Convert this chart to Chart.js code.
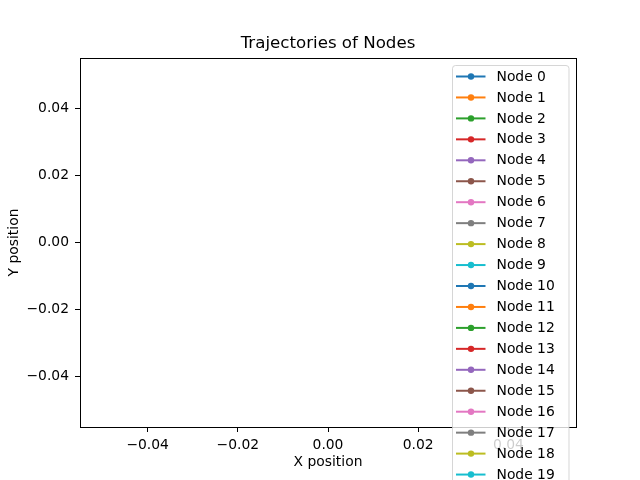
<!DOCTYPE html>
<html>
<head>
<meta charset="utf-8">
<script src="https://cdn.jsdelivr.net/npm/chart.js@4/dist/chart.umd.min.js"></script>
<style>
  html, body { margin: 0; padding: 0; background: #ffffff; }
  #wrap { width: 640px; height: 480px; }
</style>
</head>
<body>
<div id="wrap"><canvas id="c" width="640" height="480"></canvas></div>
<script>
const chartTitle = "Trajectories of Nodes";
const xAxisTitle = "X position";
const yAxisTitle = "Y position";
const nodeLabels = ["Node 0","Node 1","Node 2","Node 3","Node 4","Node 5","Node 6","Node 7","Node 8","Node 9",
                    "Node 10","Node 11","Node 12","Node 13","Node 14","Node 15","Node 16","Node 17","Node 18","Node 19"];
// every trajectory is empty in the reference
const nodeTrajectories = [[],[],[],[],[],[],[],[],[],[],[],[],[],[],[],[],[],[],[],[]];
const xTicks = [-0.04, -0.02, 0.00, 0.02, 0.04];
const yTicks = [-0.04, -0.02, 0.00, 0.02, 0.04];
const xRange = [-0.055, 0.055];
const yRange = [-0.055, 0.055];
const palette = ["#1f77b4","#ff7f0e","#2ca02c","#d62728","#9467bd","#8c564b","#e377c2","#7f7f7f","#bcbd22","#17becf"];

const FONT = "'DejaVu Sans', sans-serif";
const fmt = v => { const s = Math.abs(v) < 1e-12 ? "0.00" : v.toFixed(2); return s.replace("-", "\u2212"); };

const datasets = nodeLabels.map((lab, i) => ({
  label: lab,
  data: nodeTrajectories[i],
  borderColor: palette[i % 10],
  backgroundColor: palette[i % 10],
  pointBackgroundColor: palette[i % 10],
  pointBorderColor: palette[i % 10],
  pointRadius: 3,
  borderWidth: 1.5,
  showLine: true
}));

const framePlugin = {
  id: 'frame',
  afterDraw(chart) {
    const ctx = chart.ctx, a = chart.chartArea;
    ctx.save();
    ctx.strokeStyle = '#000';
    ctx.lineWidth = 1;
    ctx.strokeRect(Math.round(a.left) + 0.5, Math.round(a.top) + 0.5, Math.round(a.right - a.left), Math.round(a.bottom - a.top));
    // title
    ctx.fillStyle = '#000';
    ctx.font = "16.67px " + FONT;
    ctx.textAlign = 'center';
    ctx.textBaseline = 'middle';
    ctx.fillText(chartTitle, (a.left + a.right) / 2, 43.5);
    // legend
    const bx = 452.5, by = 65.5, bw = 116.5, rowH = 20.95;
    const bh = 10.4 * 2 + rowH * (chart.data.datasets.length - 1) + 4;
    const r = 3;
    ctx.beginPath();
    ctx.moveTo(bx + r, by);
    ctx.lineTo(bx + bw - r, by);
    ctx.arcTo(bx + bw, by, bx + bw, by + r, r);
    ctx.lineTo(bx + bw, by + bh - r);
    ctx.arcTo(bx + bw, by + bh, bx + bw - r, by + bh, r);
    ctx.lineTo(bx + r, by + bh);
    ctx.arcTo(bx, by + bh, bx, by + bh - r, r);
    ctx.lineTo(bx, by + r);
    ctx.arcTo(bx, by, bx + r, by, r);
    ctx.closePath();
    ctx.fillStyle = 'rgba(255,255,255,0.8)';
    ctx.fill();
    ctx.strokeStyle = 'rgba(204,204,204,0.8)';
    ctx.lineWidth = 1;
    ctx.stroke();
    ctx.font = "13.89px " + FONT;
    ctx.textAlign = 'left';
    ctx.textBaseline = 'middle';
    chart.data.datasets.forEach((ds, i) => {
      const y = by + 11 + i * rowH;
      ctx.strokeStyle = ds.borderColor;
      ctx.lineWidth = 2;
      ctx.beginPath();
      ctx.moveTo(456, y);
      ctx.lineTo(485.5, y);
      ctx.stroke();
      ctx.fillStyle = ds.pointBackgroundColor;
      ctx.beginPath();
      ctx.arc(471, y, 3.2, 0, Math.PI * 2);
      ctx.fill();
      ctx.fillStyle = '#000';
      ctx.fillText(ds.label, 496.5, y + 0.5);
    });
    ctx.restore();
  }
};

new Chart(document.getElementById('c'), {
  type: 'scatter',
  data: { datasets },
  options: {
    responsive: false,
    animation: false,
    devicePixelRatio: 1,
    layout: { padding: { top: 58, right: 64, left: 0, bottom: 0 } },
    plugins: { legend: { display: false }, title: { display: false }, tooltip: { enabled: false } },
    scales: {
      x: {
        type: 'linear', min: xRange[0], max: xRange[1],
        afterBuildTicks: s => { s.ticks = xTicks.map(v => ({ value: v })); },
        afterFit: s => { s.height = 53; },
        grid: { drawOnChartArea: false, drawTicks: true, tickLength: 5, tickColor: '#000', tickWidth: 1 },
        border: { display: false },
        ticks: { callback: v => fmt(v), color: '#000', font: { family: FONT, size: 13.89 }, padding: 5, maxRotation: 0, autoSkip: false },
        title: { display: true, text: xAxisTitle, color: '#000', font: { family: FONT, size: 13.89 }, padding: { top: 0, bottom: 9.7 } }
      },
      y: {
        type: 'linear', min: yRange[0], max: yRange[1],
        afterBuildTicks: s => { s.ticks = yTicks.map(v => ({ value: v })); },
        afterFit: s => { s.width = 80; },
        grid: { drawOnChartArea: false, drawTicks: true, tickLength: 5, tickColor: '#000', tickWidth: 1 },
        border: { display: false },
        ticks: { callback: v => fmt(v), color: '#000', font: { family: FONT, size: 13.89 }, padding: 6, autoSkip: false },
        title: { display: true, text: yAxisTitle, color: '#000', font: { family: FONT, size: 13.89 }, padding: { top: 5.7, bottom: 0 } }
      }
    }
  },
  plugins: [framePlugin]
});
</script>
</body>
</html>
